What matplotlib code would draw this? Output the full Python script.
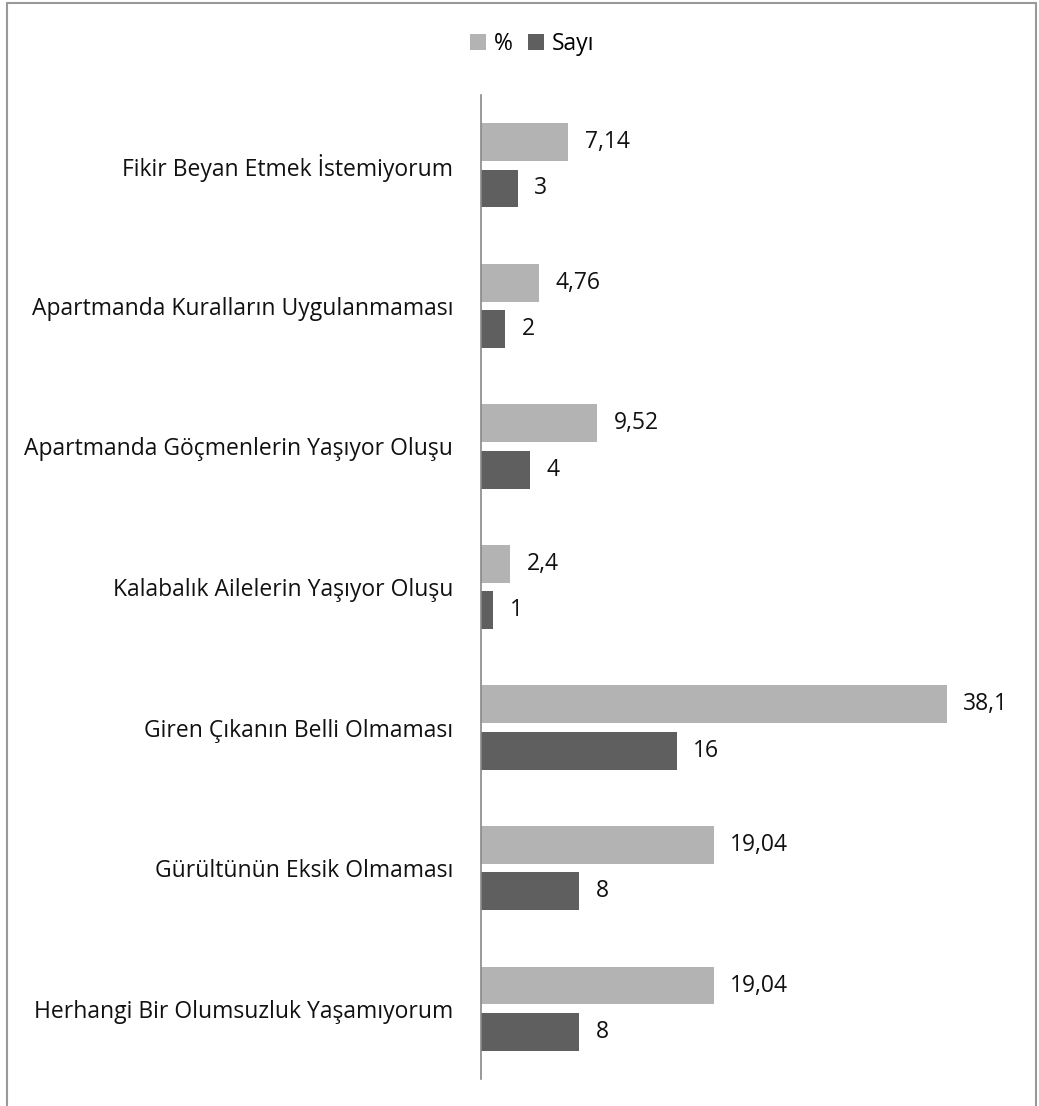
import matplotlib.pyplot as plt
import matplotlib.patches as mpatches
import numpy as np

plt.rcParams['font.family'] = ['Open Sans', 'DejaVu Sans']

categories = ['Fikir Beyan Etmek İstemiyorum',
              'Apartmanda Kuralların Uygulanmaması',
              'Apartmanda Göçmenlerin Yaşıyor Oluşu',
              'Kalabalık Ailelerin Yaşıyor Oluşu',
              'Giren Çıkanın Belli Olmaması',
              'Gürültünün Eksik Olmaması',
              'Herhangi Bir Olumsuzluk Yaşamıyorum']
yuzde = [7.14, 4.76, 9.52, 2.4, 38.1, 19.04, 19.04]
yuzde_labels = ['7,14', '4,76', '9,52', '2,4', '38,1', '19,04', '19,04']
sayi = [3, 2, 4, 1, 16, 8, 8]
sayi_labels = ['3', '2', '4', '1', '16', '8', '8']

light = '#b3b3b3'
dark = '#5f5f5f'
txt = '#111111'
fs = 16.5

W, H = 1039, 1106
fig = plt.figure(figsize=(W / 100, H / 100), dpi=100)

# outer frame
fig.patches.append(mpatches.Rectangle((7 / W, -0.01), (1036 - 7) / W, 1.01 - 3 / H,
                                      transform=fig.transFigure, fill=False,
                                      edgecolor='#999999', linewidth=1.5))

ax = fig.add_axes([481 / W, 1 - 1079 / H, 550 / W, (1079 - 95) / H])
y = np.arange(len(categories))
h = 0.27
off = 0.165
ax.barh(y - off, yuzde, height=h, color=light, label='%')
ax.barh(y + off, sayi, height=h, color=dark, label='Sayı')

for yi, v, t in zip(y, yuzde, yuzde_labels):
    ax.annotate(t, (v, yi - off), xytext=(12, 0), textcoords='offset points',
                va='center', ha='left', fontsize=fs, color=txt)
for yi, v, t in zip(y, sayi, sayi_labels):
    ax.annotate(t, (v, yi + off), xytext=(12, 0), textcoords='offset points',
                va='center', ha='left', fontsize=fs, color=txt)

ax.set_xlim(0, 45)
ax.set_ylim(len(categories) - 0.5, -0.5)
ax.set_yticks(y)
ax.set_yticklabels(categories, fontsize=fs, color=txt)
ax.tick_params(axis='y', length=0, pad=20)
ax.set_xticks([])
for s in ['top', 'right', 'bottom']:
    ax.spines[s].set_visible(False)
ax.spines['left'].set_color('#888888')
ax.spines['left'].set_linewidth(1.2)

fig.legend(loc='center', bbox_to_anchor=(532 / W, 1 - 44 / H), ncol=2, frameon=False,
           fontsize=fs, handlelength=0.7, handleheight=0.7, handletextpad=0.35,
           columnspacing=0.65)

plt.savefig('out.png', dpi=100)
